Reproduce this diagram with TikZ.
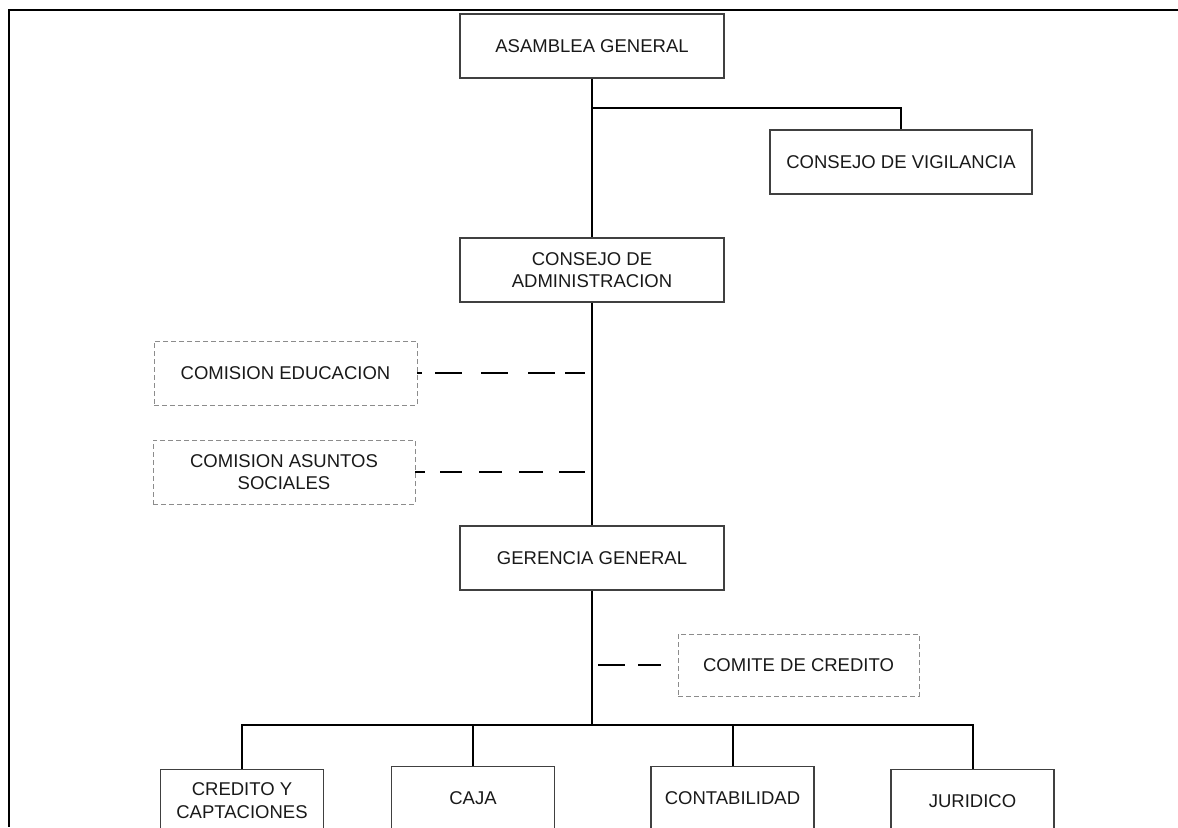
\documentclass[tikz,border=0pt]{standalone}
\usepackage{fontspec}
\setmainfont{Liberation Sans}
\begin{document}
\begin{tikzpicture}[x=0.5pt,y=-0.5pt,
  box/.style={draw=black!75, line width=0.65pt, inner sep=0pt, align=center,
    text=black!90, font=\fontsize{9.25}{11.3}\selectfont,
    minimum width=132pt, minimum height=32pt},
  smallbox/.style={box, minimum width=81.5pt, minimum height=31pt, anchor=north},
  dbox/.style={box, draw=black!45, line width=0.45pt, dash pattern=on 2.5pt off 1.5pt},
  conn/.style={line width=1pt, draw=black},
  frameline/.style={line width=1pt, draw=black}]
\useasboundingbox (0,0) rectangle (1178,827);
\clip (0,0) rectangle (1178,827);

% frame
\coordinate (ftl) at (9,10);
\coordinate (ftr) at (1178,10);
\coordinate (fbl) at (9,827);
\draw[frameline] (ftr) -- (ftl) -- (fbl);

% main nodes
\node[box] (asamblea) at (592,46) {ASAMBLEA GENERAL};
\node[box, minimum width=131pt] (vigilancia) at (901,162) {CONSEJO DE VIGILANCIA};
\node[box] (admin) at (592,270) {CONSEJO DE\\ADMINISTRACION};
\node[dbox, minimum width=131.5pt] (educ) at (285.5,373) {COMISION EDUCACION};
\node[dbox, minimum width=131pt] (sociales) at (284,472) {COMISION ASUNTOS\\SOCIALES};
\node[box] (gerencia) at (592,558) {GERENCIA GENERAL};
\node[dbox, minimum width=120.5pt, minimum height=31pt] (comite) at (798.5,665) {COMITE DE CREDITO};

\node[smallbox] (credito) at (242,769) {CREDITO Y\\CAPTACIONES};
\node[smallbox] (caja) at (473,766) {CAJA};
\node[smallbox] (contab) at (732.5,766) {CONTABILIDAD};
\node[smallbox] (juridico) at (972.5,769) {JURIDICO};

% helper coordinates
\coordinate (vbranch) at (592,108);
\coordinate (bus) at (592,725);
\coordinate (educend) at (585,373);
\coordinate (socend) at (585,472);
\coordinate (comstart) at (598,665);

% connectors
\draw[conn] (asamblea.south) -- (admin.north);
\draw[conn] (vbranch) -| (vigilancia.north);
\draw[conn] (admin.south) -- (gerencia.north);
\draw[conn] (gerencia.south) -- (bus);
\draw[conn] (credito.north) |- (bus) -| (juridico.north);
\draw[conn] (caja.north) -- (caja.north |- bus);
\draw[conn] (contab.north) -- (contab.north |- bus);

\draw[conn, dash pattern=on 2.5pt off 6.5pt on 13.5pt off 9.5pt on 13.5pt off 10pt on 13.5pt off 5pt on 10pt off 100pt]
  (educ.east) -- (educend);
\draw[conn, dash pattern=on 5pt off 7.5pt on 11pt off 8.5pt on 11.5pt off 8.5pt on 12pt off 8pt on 13.5pt off 50pt]
  (sociales.east) -- (socend);
\draw[conn, dash pattern=on 13.5pt off 6.5pt on 11.5pt off 50pt] (comstart) -- (comite.west);
\end{tikzpicture}
\end{document}
